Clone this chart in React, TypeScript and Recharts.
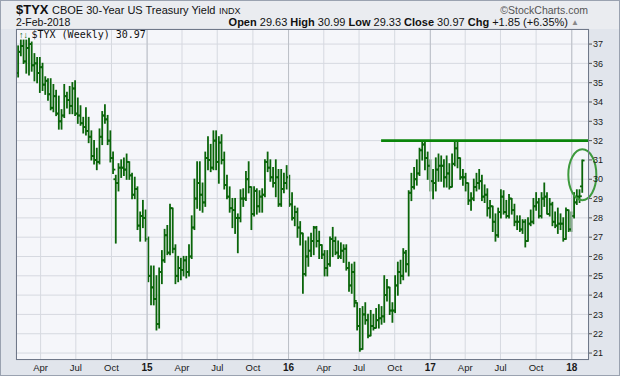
import React from 'react'
import { ComposedChart, Bar, XAxis, YAxis, CartesianGrid, ReferenceLine, ReferenceDot } from 'recharts'

// weekly $TYX bars, first bar = week of 3-Feb-2014, last = week of 29-Jan-2018
const opens = [
  35.5, 36.6, 36.9, 36.1, 36.8, 37.0, 35.9, 36.0, 35.5, 35.8,
  34.9, 35.1, 34.4, 33.7, 34.3, 33.4, 33.0, 33.3, 34.3, 34.1,
  33.8, 34.7, 33.4, 33.3, 32.9, 32.7, 32.5, 32.2, 31.2, 31.0,
  30.9, 32.2, 33.3, 33.1, 32.0, 31.1, 30.0, 29.8, 30.6, 30.6,
  30.5, 30.9, 30.2, 29.2, 29.5, 27.6, 28.1, 28.0, 26.9, 25.0,
  24.4, 23.8, 22.5, 25.2, 25.8, 27.1, 26.2, 28.5, 26.4, 25.0,
  25.4, 25.3, 25.8, 25.2, 26.0, 27.5, 29.0, 29.8, 29.2, 28.8,
  31.1, 31.0, 30.6, 32.0, 30.9, 31.9, 31.0, 29.7, 29.1, 28.5,
  28.4, 28.0, 28.0, 29.0, 29.0, 30.0, 29.6, 28.2, 29.4, 28.6,
  29.1, 29.2, 30.9, 30.6, 30.1, 29.8, 30.1, 28.7, 29.5, 29.8,
  30.1, 28.7, 28.0, 28.3, 27.5, 27.2, 25.1, 26.0, 26.3, 26.8,
  27.5, 26.8, 26.6, 26.1, 25.4, 25.6, 26.9, 26.8, 26.2, 26.0,
  26.3, 26.4, 25.4, 24.5, 25.2, 23.6, 22.4, 21.2, 23.0, 22.7,
  21.9, 22.4, 22.3, 22.7, 22.8, 22.9, 24.0, 24.4, 23.2, 23.2,
  24.5, 25.2, 25.0, 26.2, 25.6, 29.3, 29.6, 30.0, 30.3, 31.5,
  31.8, 31.1, 30.7, 29.9, 29.8, 30.5, 30.7, 30.7, 30.1, 30.3,
  29.6, 30.8, 31.6, 31.1, 30.1, 30.1, 29.8, 28.9, 29.0, 29.6,
  29.8, 29.9, 29.1, 29.2, 28.5, 28.6, 27.8, 27.1, 28.3, 29.1,
  28.3, 28.1, 29.0, 28.4, 27.8, 27.8, 27.4, 27.8, 26.8, 27.7,
  27.8, 28.6, 28.8, 28.1, 29.0, 29.1, 28.2, 28.7, 27.8, 27.6,
  27.7, 27.7, 26.9, 28.4, 27.4, 28.1, 28.8, 29.1, 29.63,
]
const highs = [
  36.9, 37.2, 37.2, 37.2, 37.3, 37.1, 36.5, 36.3, 36.3, 36.0,
  35.3, 35.2, 35.2, 34.9, 34.6, 34.3, 33.6, 34.9, 34.5, 34.8,
  35.0, 35.1, 34.2, 33.8, 33.2, 33.7, 33.2, 32.5, 32.0, 31.6,
  32.6, 33.5, 33.85, 33.3, 32.5, 31.4, 30.2, 30.8, 31.0, 31.1,
  31.3, 30.9, 30.3, 30.1, 29.6, 28.3, 28.9, 28.4, 27.0, 25.5,
  25.5, 25.0, 25.4, 26.3, 27.4, 27.6, 28.7, 28.5, 26.6, 26.0,
  25.9, 26.0, 26.0, 26.6, 28.1, 30.0, 30.9, 30.9, 29.8, 31.4,
  32.2, 31.8, 32.5, 32.5, 32.2, 32.3, 31.4, 30.2, 29.6, 29.0,
  29.0, 28.2, 29.45, 29.5, 30.4, 30.9, 29.6, 29.6, 29.5, 29.4,
  29.5, 31.0, 31.4, 31.0, 30.6, 31.0, 30.5, 30.5, 30.3, 30.7,
  30.2, 29.3, 28.6, 28.5, 27.8, 27.2, 26.8, 27.0, 27.2, 27.55,
  27.55, 27.3, 26.6, 26.3, 26.3, 27.0, 27.5, 27.0, 26.8, 26.7,
  26.6, 26.6, 25.7, 25.6, 25.7, 23.6, 23.3, 23.4, 23.6, 23.0,
  23.2, 23.0, 23.3, 23.5, 23.4, 25.0, 24.8, 24.4, 23.6, 25.0,
  25.7, 25.8, 26.4, 26.3, 29.4, 30.3, 30.6, 31.0, 31.6, 32.0,
  31.9, 31.4, 31.0, 30.5, 31.1, 31.3, 31.2, 31.0, 31.2, 30.8,
  31.3, 32.0, 32.0, 31.1, 30.5, 30.3, 29.8, 29.3, 30.0, 30.3,
  30.5, 30.2, 29.7, 29.5, 28.9, 28.6, 28.2, 28.5, 29.45, 29.4,
  28.9, 29.2, 29.0, 28.7, 28.1, 28.1, 27.9, 27.9, 28.0, 28.4,
  29.0, 29.3, 29.0, 29.3, 29.8, 29.3, 29.0, 28.8, 28.3, 28.5,
  28.2, 28.0, 28.5, 28.4, 28.3, 29.3, 29.45, 29.45, 30.99,
]
const lows = [
  35.3, 36.4, 36.0, 35.5, 35.4, 35.6, 35.1, 35.0, 34.5, 34.6,
  34.4, 34.1, 33.6, 33.5, 33.3, 32.6, 32.6, 33.2, 33.7, 33.4,
  33.4, 33.3, 32.9, 32.8, 32.4, 32.3, 31.9, 31.0, 30.8, 30.5,
  30.8, 31.8, 32.9, 31.8, 30.9, 30.3, 26.7, 29.4, 30.1, 30.2,
  30.0, 30.0, 29.0, 29.0, 27.4, 26.8, 27.5, 26.8, 24.7, 23.5,
  23.5, 22.2, 22.3, 24.6, 25.7, 26.1, 26.1, 26.2, 24.6, 24.7,
  24.8, 25.0, 24.9, 25.0, 25.9, 27.4, 28.5, 28.4, 28.3, 28.6,
  30.5, 30.4, 30.5, 30.5, 29.8, 30.8, 29.5, 29.0, 28.3, 27.5,
  27.2, 26.2, 27.8, 28.6, 28.9, 29.3, 27.4, 28.1, 28.2, 28.3,
  28.3, 29.1, 30.4, 29.9, 29.6, 29.1, 28.6, 28.6, 29.3, 29.5,
  28.6, 27.9, 27.6, 27.0, 26.6, 24.1, 25.0, 25.5, 26.0, 26.1,
  26.5, 25.9, 25.9, 25.0, 25.0, 25.5, 26.0, 26.1, 25.9, 25.9,
  25.7, 25.3, 24.2, 24.1, 23.4, 22.2, 21.1, 21.2, 22.5, 21.8,
  21.9, 22.2, 22.3, 22.3, 22.5, 22.6, 23.7, 23.0, 22.6, 23.1,
  24.0, 24.6, 24.8, 25.2, 25.0, 28.9, 29.5, 29.7, 30.2, 31.0,
  30.5, 30.0, 29.4, 29.0, 29.4, 29.9, 29.9, 29.6, 29.6, 29.5,
  29.6, 30.7, 30.6, 30.0, 29.7, 29.4, 28.7, 28.4, 28.9, 29.4,
  29.5, 28.9, 28.8, 28.1, 28.0, 27.3, 26.8, 27.0, 28.0, 28.2,
  28.0, 28.0, 28.2, 27.6, 27.4, 27.3, 27.2, 26.5, 26.8, 27.6,
  27.7, 28.4, 28.0, 28.0, 28.6, 28.2, 28.1, 27.6, 27.5, 27.2,
  27.4, 26.8, 26.9, 27.3, 27.3, 28.0, 28.7, 28.8, 29.33,
]
const closes = [
  36.6, 36.9, 36.1, 36.8, 37.0, 35.9, 36.0, 35.5, 35.8, 34.9,
  35.1, 34.4, 33.7, 34.3, 33.4, 33.0, 33.3, 34.3, 34.1, 33.8,
  34.7, 33.4, 33.3, 32.9, 32.7, 32.5, 32.2, 31.2, 31.0, 30.9,
  32.2, 33.3, 33.1, 32.0, 31.1, 30.5, 29.8, 30.6, 30.6, 30.5,
  30.9, 30.2, 29.2, 29.5, 27.6, 28.1, 28.0, 26.9, 25.0, 24.4,
  23.8, 22.5, 25.2, 25.8, 27.1, 26.2, 28.5, 26.4, 25.0, 25.4,
  25.3, 25.8, 25.2, 26.0, 27.5, 29.0, 29.8, 29.2, 28.8, 31.1,
  31.0, 30.6, 32.0, 30.9, 31.9, 31.0, 29.7, 29.1, 28.5, 28.4,
  28.0, 28.0, 29.0, 29.0, 30.0, 29.6, 28.2, 29.4, 28.6, 29.1,
  29.2, 30.9, 30.6, 30.1, 29.8, 30.1, 28.7, 29.5, 29.8, 30.1,
  28.7, 28.0, 28.3, 27.5, 27.2, 25.1, 26.0, 26.3, 26.8, 27.5,
  26.8, 26.6, 26.1, 25.4, 25.6, 26.9, 26.8, 26.2, 26.0, 26.3,
  26.4, 25.4, 24.5, 25.2, 23.7, 22.4, 21.2, 23.0, 22.7, 21.9,
  22.4, 22.3, 22.7, 22.8, 22.9, 24.0, 24.4, 23.2, 23.2, 24.5,
  25.2, 25.0, 26.2, 25.6, 29.3, 29.6, 30.0, 30.3, 31.5, 31.8,
  31.1, 30.7, 29.9, 29.8, 30.5, 30.7, 30.7, 30.1, 30.3, 29.6,
  30.8, 31.6, 31.1, 30.1, 30.1, 29.8, 28.9, 29.0, 29.6, 29.8,
  29.9, 29.1, 29.2, 28.5, 28.6, 27.8, 27.1, 28.3, 29.1, 28.3,
  28.1, 29.0, 28.4, 27.8, 27.8, 27.4, 27.8, 26.8, 27.7, 27.8,
  28.6, 28.8, 28.1, 29.0, 29.1, 28.2, 28.7, 27.8, 27.6, 27.7,
  27.7, 26.9, 28.4, 27.4, 28.1, 28.8, 29.1, 29.12, 30.97,
]

const tickMonths = ['2014-04', '2014-07', '2014-10', '2015-01', '2015-04', '2015-07', '2015-10', '2016-01',
  '2016-04', '2016-07', '2016-10', '2017-01', '2017-04', '2017-07', '2017-10', '2018-01']
const tickLabels = ['Apr', 'Jul', 'Oct', '15', 'Apr', 'Jul', 'Oct', '16', 'Apr', 'Jul', 'Oct', '17', 'Apr', 'Jul', 'Oct', '18']
const yTicks = [21, 22, 23, 24, 25, 26, 27, 28, 29, 30, 31, 32, 33, 34, 35, 36, 37]

const resistance = 32
const resistanceFrom = 133.7 // week index where the drawn line starts
const circled = { week: 207.9, value: 30.23 }

const BASE = Date.UTC(2014, 1, 3)
const WEEK = 7 * 86400000
const weekPos = (ym: string) => {
  const [y, m] = ym.split('-').map(Number)
  return (Date.UTC(y, m - 1, 1) - BASE) / WEEK
}
const tickPos = tickMonths.map(weekPos)
const yearPos = tickPos.filter((_, k) => tickLabels[k].length === 2)

const rows = closes.map((c, i) => ({ i, o: opens[i], h: highs[i], l: lows[i], c }))

const BAR = '#0a650a'
const FONT = '"Liberation Sans", Arial, sans-serif'

function OhlcBar(props: any) {
  const { x, y, width, height, payload } = props
  if (x == null || !payload) return null
  const cx = x + width / 2
  const top = Math.min(y, y + height)
  const bot = Math.max(y, y + height)
  const span = payload.h - payload.l
  const toY = (v: number) => (span > 0 ? top + ((payload.h - v) / span) * (bot - top) : top)
  const oy = toY(payload.o)
  const cy = toY(payload.c)
  return (
    <g stroke={BAR} strokeWidth={1.8}>
      <line x1={cx} x2={cx} y1={top - 0.6} y2={bot + 0.6} />
      <line x1={cx - 2.3} x2={cx} y1={oy} y2={oy} />
      <line x1={cx} x2={cx + 2.3} y1={cy} y2={cy} />
    </g>
  )
}

function MonthTick(props: any) {
  const { x, y, payload } = props
  let k = 0
  tickPos.forEach((p, j) => { if (Math.abs(p - payload.value) < Math.abs(tickPos[k] - payload.value)) k = j })
  const label = tickLabels[k]
  const isYear = label.length === 2
  return (
    <text x={x} y={y + 10.5} textAnchor="middle" fontSize={isYear ? 10 : 9.5} fontWeight={isYear ? 'bold' : 'normal'}
      fill="#1a1a1a" fontFamily={FONT}>
      {label}
    </text>
  )
}

export default function App() {
  return (
    <div style={{ position: 'absolute', left: 0, top: 0, width: 620, height: 376, background: '#e1e5ec', overflow: 'hidden' }}>
      <div style={{ position: 'absolute', left: 0, top: 0, width: 620, height: 29, background: '#eaecf0' }} />
      <div style={{ position: 'absolute', left: 0, top: 0 }}>
        <ComposedChart width={620} height={376} data={rows} margin={{ top: 29, right: 0, bottom: 0, left: 16 }}>
          <CartesianGrid fill="#f5f6fa" stroke="#d6d9e0" strokeWidth={1} />
          <XAxis dataKey="i" type="number" domain={[-0.92, 210.36]} allowDataOverflow ticks={tickPos}
            height={16} tickSize={0} tickMargin={0} axisLine={false} tick={<MonthTick />} interval={0} />
          <YAxis orientation="right" type="number" domain={[20.64, 37.78]} allowDataOverflow ticks={yTicks}
            width={31} tickSize={3} tickMargin={1} axisLine={false} interval={0}
            tickLine={{ stroke: '#555' }} tick={{ fontSize: 9, fill: '#1a1a1a', fontFamily: FONT }} />
          {yearPos.map((p) => (
            <ReferenceLine key={p} x={p} stroke="#bcc0c8" strokeWidth={1} />
          ))}
          <Bar dataKey={(d: any) => [d.l, d.h]} shape={<OhlcBar />} barSize={2} isAnimationActive={false} />
          <ReferenceLine segment={[{ x: resistanceFrom, y: resistance }, { x: 210.36, y: resistance }]}
            stroke="#0a850a" strokeWidth={2.6} ifOverflow="visible" />
          <ReferenceDot x={circled.week} y={circled.value} r={1} ifOverflow="visible"
            shape={(p: any) => (
              <ellipse cx={p.cx} cy={p.cy} rx={14} ry={25.5} fill="none" stroke="#3d9a3d" strokeWidth={2} />
            )} />
        </ComposedChart>
      </div>
      <svg width={620} height={376} style={{ position: 'absolute', left: 0, top: 0, pointerEvents: 'none' }}>
        <rect x={16.5} y={29.5} width={572} height={330} fill="none" stroke="#6f7889" />
        <rect x={0.5} y={0.5} width={619} height={375} fill="none" stroke="#9aa2b0" />
        <g fontFamily={FONT} fill="#111">
          <text x={16} y={13.5} fontSize={13} fontWeight="bold">$TYX</text>
          <text x={52} y={13.5} fontSize={11}>CBOE 30-Year US Treasury Yield</text>
          <text x={219} y={13.5} fontSize={9}>INDX</text>
          <text x={588} y={13.5} fontSize={10.5} fill="#555" textAnchor="end">©StockCharts.com</text>
          <text x={16} y={25.5} fontSize={10.5}>2-Feb-2018</text>
          <text x={568} y={25.5} fontSize={11} textAnchor="end">
            <tspan fontWeight="bold">Open</tspan> 29.63 <tspan fontWeight="bold">High</tspan> 30.99{' '}
            <tspan fontWeight="bold">Low</tspan> 29.33 <tspan fontWeight="bold">Close</tspan> 30.97{' '}
            <tspan fontWeight="bold">Chg</tspan> +1.85 (+6.35%)
          </text>
          <text x={571} y={25} fontSize={8} fill="#888">▲</text>
        </g>
        <text x={19} y={38} fontSize={9} fill={BAR} fontFamily={FONT} fontWeight="bold">↑↓</text>
        <text x={31.5} y={38} fontSize={10} fill="#111" fontFamily='"DejaVu Sans Mono", monospace'>$TYX (Weekly) 30.97</text>
      </svg>
    </div>
  )
}
